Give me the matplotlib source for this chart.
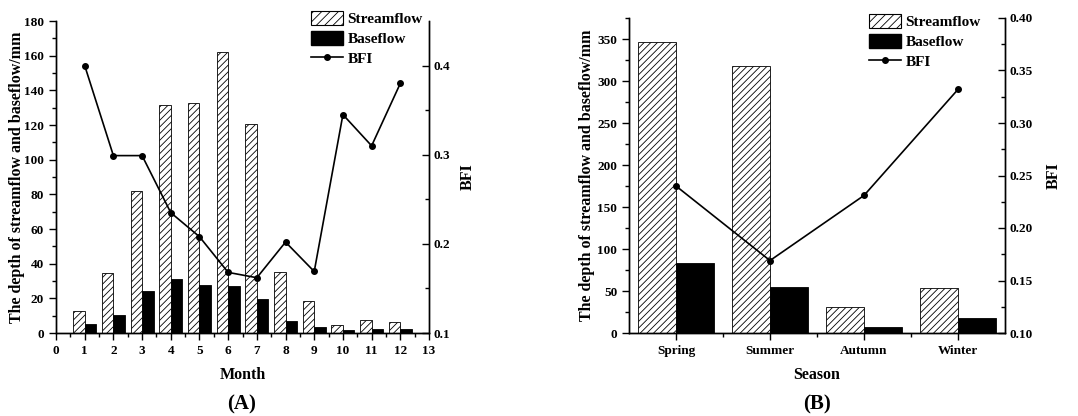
import numpy as np
import matplotlib.pyplot as plt
from matplotlib.ticker import MultipleLocator, FixedLocator
from matplotlib.patches import Patch
from matplotlib.lines import Line2D

# =============================================================================
# DATA
# =============================================================================
months = [1, 2, 3, 4, 5, 6, 7, 8, 9, 10, 11, 12]
month_streamflow = [12.5, 34.6, 82.2, 131.4, 132.7, 161.9, 120.4, 35.2, 18.4, 4.8, 7.5, 6.5]
month_baseflow = [5.2, 10.6, 24.4, 31.1, 27.7, 27.3, 19.6, 7.1, 3.5, 1.7, 2.3, 2.3]
month_bfi = [0.400, 0.299, 0.299, 0.235, 0.208, 0.168, 0.162, 0.202, 0.169, 0.345, 0.310, 0.380]

seasons = ['Spring', 'Summer', 'Autumn', 'Winter']
season_streamflow = [346.8, 317.5, 30.9, 53.8]
season_baseflow = [83.5, 55.0, 7.5, 18.2]
season_bfi = [0.240, 0.169, 0.231, 0.332]

# =============================================================================
# STYLE
# =============================================================================
plt.rcParams.update({
    "font.family": ["Liberation Serif", "DejaVu Serif"],
    "font.weight": "bold",
    "axes.labelweight": "bold",
    "axes.linewidth": 1.0,
    "hatch.linewidth": 0.6,
    "hatch.color": "black",
})
TICK_FS = 9.5
LABEL_FS = 11.5
LEGEND_FS = 11
BAR_W = 0.4
HATCH = '/////'

W, H = 1078, 416


def fx(px):
    return px / W


def fy(px):
    return 1 - px / H


def style_axes(ax, ax2):
    ax.spines['top'].set_visible(False)
    ax2.spines['top'].set_visible(False)
    ax.tick_params(axis='both', which='major', direction='out', length=5, width=1,
                   labelsize=TICK_FS)
    ax.tick_params(axis='both', which='minor', direction='out', length=3, width=1)
    ax2.tick_params(axis='y', which='major', direction='in', length=5, width=1,
                    labelsize=TICK_FS, pad=3)
    ax2.tick_params(axis='y', which='minor', direction='in', length=3, width=1)


def legend_handles():
    return [Patch(facecolor='white', edgecolor='black', hatch='////', linewidth=0.8),
            Patch(facecolor='black', edgecolor='black'),
            Line2D([], [], color='black', lw=1.2, marker='o', markersize=4)]


fig = plt.figure(figsize=(W / 100, H / 100), dpi=100)

# ---------------------------------------------------------------- panel A
axA = fig.add_axes([fx(56), fy(333), fx(429) - fx(56), fy(21) - fy(333)])
x = np.array(months)
axA.bar(x - BAR_W / 2, month_streamflow, BAR_W, facecolor='white', edgecolor='black',
        hatch=HATCH, linewidth=0.6)
axA.bar(x + BAR_W / 2, month_baseflow, BAR_W, facecolor='black', edgecolor='black',
        linewidth=0.6)
axA.set_xlim(0, 13)
axA.set_ylim(0, 180)
axA.xaxis.set_major_locator(MultipleLocator(1))
axA.xaxis.set_minor_locator(MultipleLocator(0.5))
axA.yaxis.set_major_locator(MultipleLocator(20))
axA.yaxis.set_minor_locator(MultipleLocator(10))
axA.set_xlabel('Month', fontsize=LABEL_FS, labelpad=7)
axA.set_ylabel('The depth of streamflow and baseflow/mm', fontsize=LABEL_FS)
axA.yaxis.set_label_coords(-0.083, 0.5)

axA2 = axA.twinx()
axA2.plot(x, month_bfi, color='black', lw=1.2, marker='o', markersize=4)
axA2.set_ylim(0.1, 0.45)
axA2.yaxis.set_major_locator(FixedLocator([0.1, 0.2, 0.3, 0.4]))
axA2.yaxis.set_minor_locator(FixedLocator([0.15, 0.25, 0.35]))
axA2.yaxis.set_major_formatter(plt.FuncFormatter(lambda v, p: f'{v:.1f}'))
axA2.set_ylabel('BFI', fontsize=LABEL_FS)
axA2.yaxis.set_label_coords(1.083, 0.5)
style_axes(axA, axA2)

axA2.legend(legend_handles(), ['Streamflow', 'Baseflow', 'BFI'], loc='upper left',
            bbox_to_anchor=(fx(311), fy(11)), bbox_transform=fig.transFigure,
            frameon=False, fontsize=LEGEND_FS, borderpad=0, borderaxespad=0,
            handlelength=2.1, handleheight=1.05, handletextpad=0.3, labelspacing=0.3)
fig.text(fx(242), fy(404), '(A)', ha='center', va='center', fontsize=15)

# ---------------------------------------------------------------- panel B
axB = fig.add_axes([fx(629), fy(333), fx(1005) - fx(629), fy(18) - fy(333)])
xs = np.arange(len(seasons))
axB.bar(xs - BAR_W / 2, season_streamflow, BAR_W, facecolor='white', edgecolor='black',
        hatch=HATCH, linewidth=0.6)
axB.bar(xs + BAR_W / 2, season_baseflow, BAR_W, facecolor='black', edgecolor='black',
        linewidth=0.6)
axB.set_xlim(-0.5, 3.5)
axB.set_ylim(0, 375)
axB.set_xticks(xs)
axB.set_xticklabels(seasons)
axB.xaxis.set_minor_locator(FixedLocator([0.5, 1.5, 2.5]))
axB.yaxis.set_major_locator(MultipleLocator(50))
axB.yaxis.set_minor_locator(MultipleLocator(25))
axB.set_xlabel('Season', fontsize=LABEL_FS, labelpad=7)
axB.set_ylabel('The depth of streamflow and baseflow/mm', fontsize=LABEL_FS)
axB.yaxis.set_label_coords(-0.090, 0.5)

axB2 = axB.twinx()
axB2.plot(xs, season_bfi, color='black', lw=1.2, marker='o', markersize=4)
axB2.set_ylim(0.1, 0.4)
axB2.yaxis.set_major_locator(MultipleLocator(0.05))
axB2.yaxis.set_minor_locator(MultipleLocator(0.025))
axB2.yaxis.set_major_formatter(plt.FuncFormatter(lambda v, p: f'{v:.2f}'))
axB2.set_ylabel('BFI', fontsize=LABEL_FS)
axB2.yaxis.set_label_coords(1.109, 0.5)
style_axes(axB, axB2)

axB2.legend(legend_handles(), ['Streamflow', 'Baseflow', 'BFI'], loc='upper left',
            bbox_to_anchor=(fx(869), fy(14)), bbox_transform=fig.transFigure,
            frameon=False, fontsize=LEGEND_FS, borderpad=0, borderaxespad=0,
            handlelength=2.1, handleheight=1.05, handletextpad=0.3, labelspacing=0.3)
fig.text(fx(817), fy(404), '(B)', ha='center', va='center', fontsize=15)

fig.savefig('out.png', dpi=100)
